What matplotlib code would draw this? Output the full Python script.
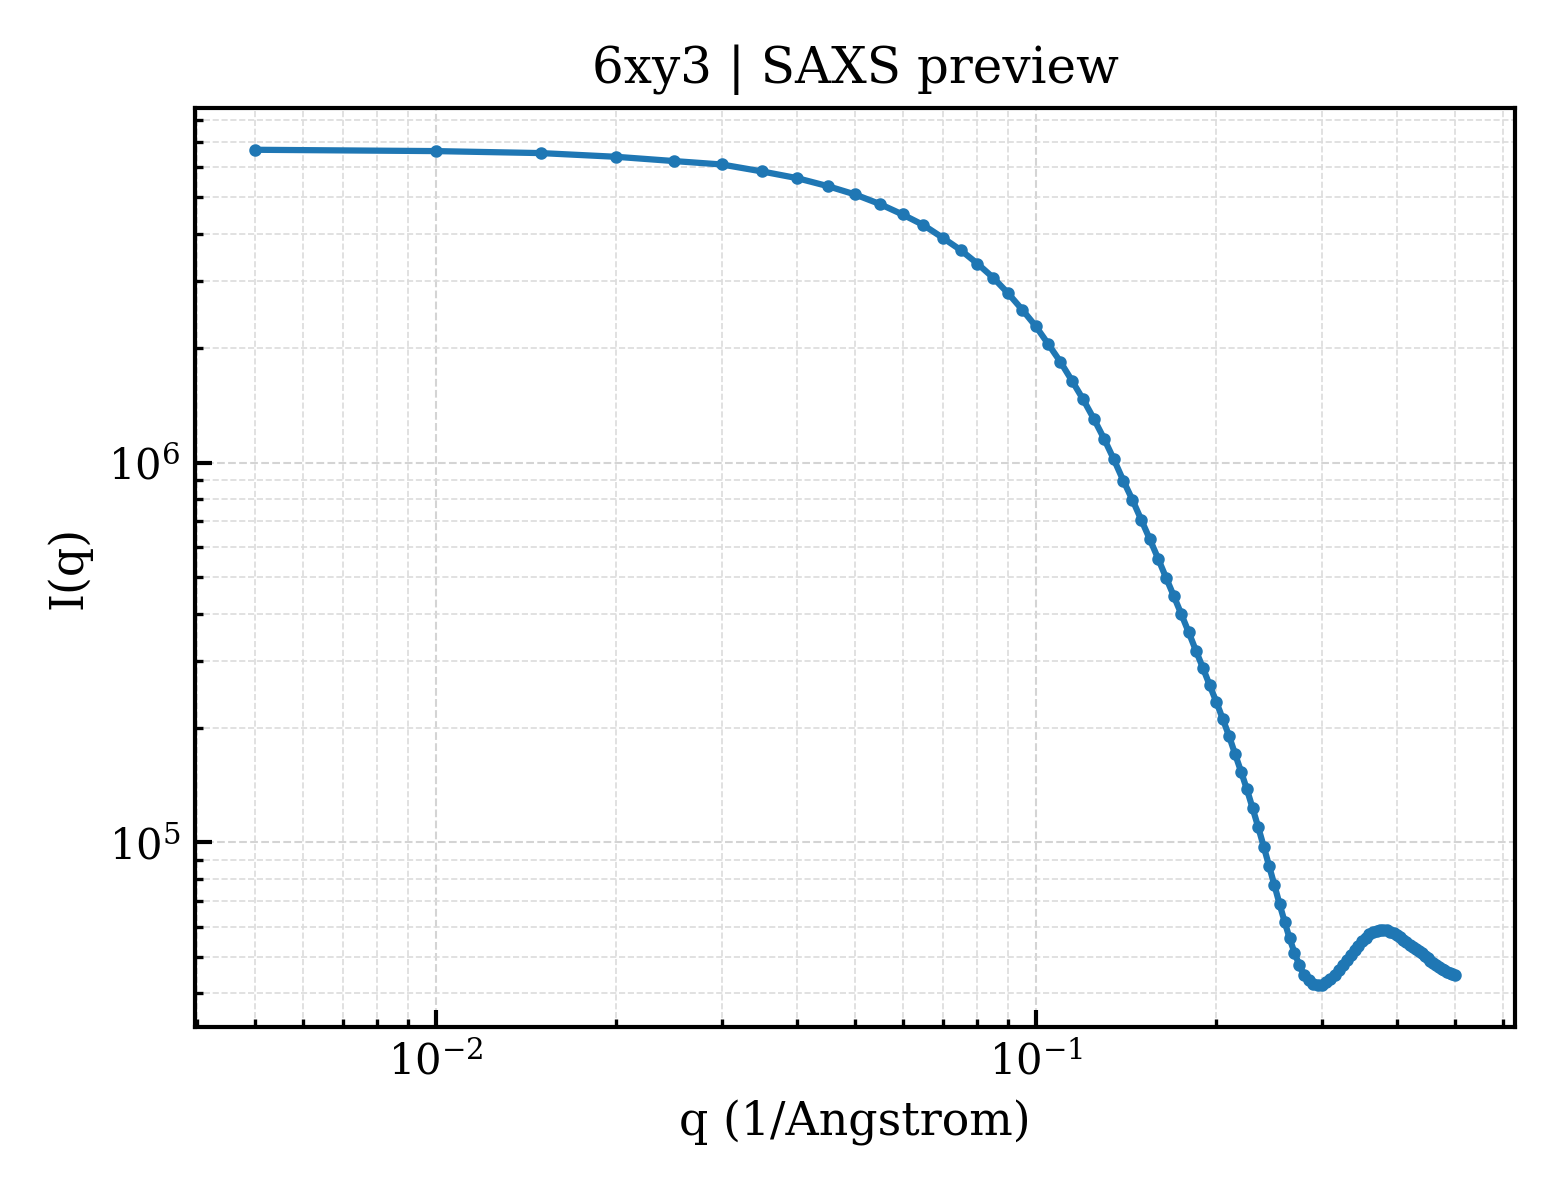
import matplotlib
matplotlib.use("Agg")
import matplotlib.pyplot as plt

plt.rcParams['font.family'] = ['DejaVu Serif']
plt.rcParams['mathtext.fontset'] = 'dejavuserif'

title = "6xy3 | SAXS preview"
xlabel = "q (1/Angstrom)"
ylabel = "I(q)"

q = [0.005, 0.010, 0.015, 0.020, 0.025, 0.030, 0.035, 0.040, 0.045, 0.050,
     0.055, 0.060, 0.065, 0.070, 0.075, 0.080, 0.085, 0.090, 0.095, 0.100,
     0.105, 0.110, 0.115, 0.120, 0.125, 0.130, 0.135, 0.140, 0.145, 0.150,
     0.155, 0.160, 0.165, 0.170, 0.175, 0.180, 0.185, 0.190, 0.195, 0.200,
     0.205, 0.210, 0.215, 0.220, 0.225, 0.230, 0.235, 0.240, 0.245, 0.250,
     0.255, 0.260, 0.265, 0.270, 0.275, 0.280, 0.285, 0.290, 0.295, 0.300,
     0.305, 0.310, 0.315, 0.320, 0.325, 0.330, 0.335, 0.340, 0.345, 0.350,
     0.355, 0.360, 0.365, 0.370, 0.375, 0.380, 0.385, 0.390, 0.395, 0.400,
     0.405, 0.410, 0.415, 0.420, 0.425, 0.430, 0.435, 0.440, 0.445, 0.450,
     0.455, 0.460, 0.465, 0.470, 0.475, 0.480, 0.485, 0.490, 0.495, 0.500]

intensity = [6.664e6, 6.611e6, 6.531e6, 6.386e6, 6.222e6, 6.095e6, 5.843e6, 5.613e6, 5.348e6, 5.083e6,
             4.796e6, 4.502e6, 4.222e6, 3.909e6, 3.628e6, 3.340e6, 3.067e6, 2.790e6, 2.527e6, 2.289e6,
             2.050e6, 1.841e6, 1.642e6, 1.467e6, 1.305e6, 1.157e6, 1.020e6, 8.966e5, 7.977e5, 7.067e5,
             6.283e5, 5.589e5, 4.971e5, 4.447e5, 3.981e5, 3.570e5, 3.196e5, 2.882e5, 2.594e5, 2.346e5,
             2.116e5, 1.909e5, 1.708e5, 1.535e5, 1.378e5, 1.229e5, 1.095e5, 9.743e4, 8.660e4, 7.719e4,
             6.880e4, 6.183e4, 5.589e4, 5.125e4, 4.753e4, 4.475e4, 4.333e4, 4.242e4, 4.204e4, 4.217e4,
             4.281e4, 4.373e4, 4.480e4, 4.604e4, 4.745e4, 4.891e4, 5.042e4, 5.197e4, 5.340e4, 5.488e4,
             5.606e4, 5.726e4, 5.796e4, 5.848e4, 5.884e4, 5.884e4, 5.866e4, 5.813e4, 5.760e4, 5.691e4,
             5.623e4, 5.539e4, 5.455e4, 5.373e4, 5.292e4, 5.228e4, 5.165e4, 5.103e4, 5.026e4, 4.950e4,
             4.876e4, 4.817e4, 4.759e4, 4.702e4, 4.645e4, 4.604e4, 4.561e4, 4.521e4, 4.493e4, 4.467e4]

fig = plt.figure(figsize=(5.2, 4.0), dpi=300)
ax = fig.add_axes([195/1560, 1 - 1027/1200, (1515-195)/1560, (1027-108)/1200])

ax.plot(q, intensity, '-o', color='#1f77b4', linewidth=1.5, markersize=2.0)
ax.set_xscale('log')
ax.set_yscale('log')

ax.grid(True, which='major', linestyle='--', linewidth=0.5, color='#d4d4d4')
ax.grid(True, which='minor', linestyle='--', linewidth=0.4, color='#dcdcdc')

for s in ax.spines.values():
    s.set_linewidth(1.0)

ax.tick_params(which='both', direction='in', top=False, right=False, labelsize=10)
ax.tick_params(which='major', length=4, width=1.0)
ax.tick_params(which='minor', length=2, width=0.8)

ax.set_title(title, fontsize=12)
ax.set_xlabel(xlabel, fontsize=11)
ax.set_ylabel(ylabel, fontsize=11)

fig.savefig("out.png", dpi=300)
